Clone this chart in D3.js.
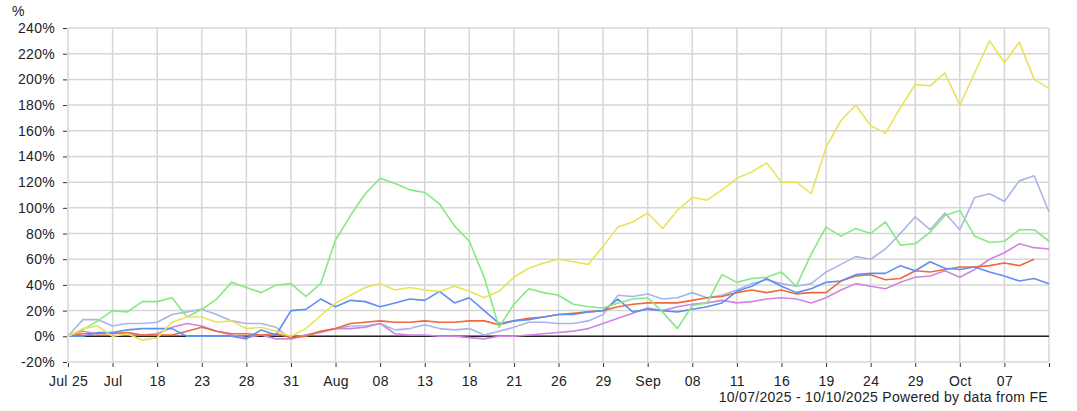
<!DOCTYPE html>
<html>
<head>
<meta charset="utf-8">
<script src="https://cdn.jsdelivr.net/npm/d3@7"></script>
<style>
  body { margin: 0; background: #fff; }
  svg { display: block; font-family: "Liberation Sans", Arial, sans-serif; }
  .grid line { stroke: #d6d6d6; stroke-width: 1.5; }
  .axis text, .label { font-size: 14px; letter-spacing: 0.3px; fill: #222; }
  .axis line { stroke: #333; }
  .series { fill: none; stroke-width: 1.6; stroke-linejoin: round; }
</style>
</head>
<body>
<svg id="chart" width="1077" height="411"></svg>
<script>
// x tick labels, one every 3 points (last gridline has no label)
var xLabels = ["Jul 25", "Jul", "18", "23", "28", "31", "Aug", "08", "13", "18", "21",
  "26", "29", "Sep", "08", "11", "16", "19", "24", "29", "Oct", "07", ""];
var yTicks = [-20, 0, 20, 40, 60, 80, 100, 120, 140, 160, 180, 200, 220, 240];

// cumulative performance, %
var yellowVals = [0,6,8,0,2,-3,-1,11,15,15, 11,12,6,7,4,0,6,16,26,32,
  38,41,36,38,36,35,39,35,30,35, 46,53,57,60,58,56,70,85,89,96,
  84,98,108,106,114,123,128,135,120,120, 111,147,168,180,164,158,178,196,195,205,
  180,205,230,213,229,200,193];
var greenVals = [0,5,12,20,19,27,27,30,15,21, 29,42,38,34,40,41,31,41,75,94,
  111,123,119,114,112,103,86,74,46,7, 25,37,34,32,25,23,22,26,29,30,
  19,6,24,26,48,42,45,46,50,39, 64,85,78,84,80,89,71,72,81,94,
  98,78,73,74,83,83,74];
var lavenderVals = [0,13,13,8,10,10,11,17,19,21, 17,12,10,10,7,-2,1,4,6,8,
  8,10,5,6,9,6,5,6,1,4, 7,11,11,10,10,12,17,32,31,33,
  29,30,34,30,32,36,41,44,41,39, 41,50,56,62,60,68,80,93,83,96,
  83,108,111,105,121,125,97];
var blueVals = [0,0,3,3,5,6,6,6,0,0, 0,0,-2,5,1,20,21,29,23,28,
  27,23,26,29,28,35,26,30,20,10, 12,13,15,17,17,19,20,29,19,21,
  20,19,21,23,26,35,39,45,39,34, 37,42,43,48,49,49,55,51,58,53,
  52,54,50,47,43,45,41];
var redVals = [0,2,2,2,3,1,1,1,4,7, 4,2,2,1,2,-1,0,4,6,10,
  11,12,11,11,12,11,11,12,12,9, 12,14,15,17,18,19,20,23,25,26,
  26,26,28,30,31,34,36,34,36,33, 34,34,43,47,48,44,45,51,50,52,
  54,54,55,57,55,60];
var pinkVals = [0,4,2,3,2,1,2,7,10,8, 4,1,-1,1,-2,-2,1,3,6,6,
  7,10,2,1,1,0,0,-1,-2,0, 0,1,2,3,4,6,10,14,18,22,
  20,23,25,26,28,26,27,29,30,29, 26,30,36,41,39,37,42,46,47,51,
  46,52,60,65,72,69,68];

var seriesList = [
  {name: "lavender", color: "#a9b5ea", values: lavenderVals},
  {name: "pink", color: "#cf85e2", values: pinkVals},
  {name: "red", color: "#f0693a", values: redVals},
  {name: "blue", color: "#5f8ff0", values: blueVals},
  {name: "green", color: "#86e883", values: greenVals},
  {name: "yellow", color: "#ebe25a", values: yellowVals}
];

var svg = d3.select("#chart");
var plotLeft = 68, plotRight = 1049, plotTop = 28, plotBottom = 362;
var nPoints = 67;

var x = d3.scaleLinear().domain([0, nPoints - 1]).range([plotLeft, plotRight]);
var y = d3.scaleLinear().domain([-20, 240]).range([plotBottom, plotTop]);
var xTickIdx = d3.range(0, nPoints, 3);

// grid
var grid = svg.append("g").classed("grid", true);
grid.selectAll("line.h").data(yTicks).enter().append("line")
  .attr("x1", plotLeft).attr("x2", plotRight)
  .attr("y1", function(d){ return y(d); }).attr("y2", function(d){ return y(d); });
grid.selectAll("line.v").data(xTickIdx).enter().append("line")
  .attr("y1", plotTop).attr("y2", plotBottom)
  .attr("x1", function(d){ return x(d); }).attr("x2", function(d){ return x(d); });

// zero line
svg.append("line")
  .attr("x1", plotLeft).attr("x2", plotRight)
  .attr("y1", y(0)).attr("y2", y(0))
  .attr("stroke", "#222").attr("stroke-width", 1.5);

// axes
var yAxis = svg.append("g").classed("axis", true)
  .attr("transform", "translate(" + (plotLeft - 1) + ",0)")
  .call(d3.axisLeft(y).tickValues(yTicks).tickSize(4).tickPadding(8)
    .tickFormat(function(d){ return d + "%"; }));
yAxis.select(".domain").remove();

var xAxis = svg.append("g").classed("axis", true)
  .attr("transform", "translate(0," + (plotBottom + 1) + ")")
  .call(d3.axisBottom(x).tickValues(xTickIdx).tickSize(4).tickPadding(9)
    .tickFormat(function(d){ return xLabels[d / 3]; }));
xAxis.select(".domain").remove();

// lines
var line = d3.line()
  .x(function(d, i){ return x(i); })
  .y(function(d){ return y(d); });
svg.append("g").selectAll("path").data(seriesList).enter().append("path")
  .classed("series", true)
  .attr("stroke", function(d){ return d.color; })
  .attr("d", function(d){ return line(d.values); });

// unit + footer
svg.append("text").classed("label", true).attr("x", 12).attr("y", 16).text("%");
svg.append("text").classed("label", true).attr("x", 1048).attr("y", 402)
  .attr("text-anchor", "end")
  .text("10/07/2025 - 10/10/2025 Powered by data from FE");
</script>
</body>
</html>
